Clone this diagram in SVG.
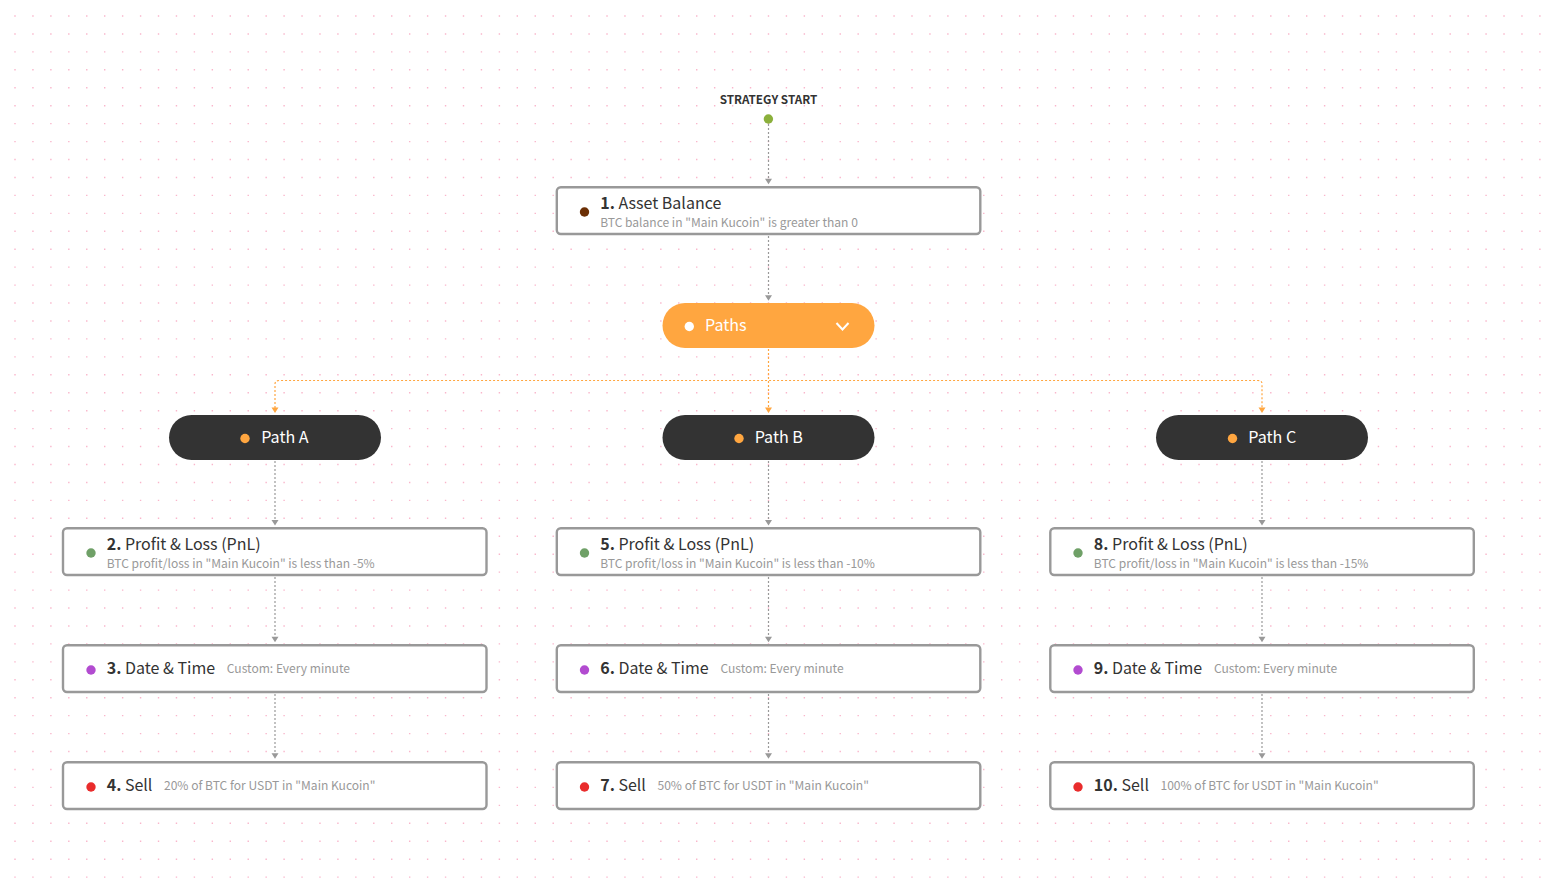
<svg xmlns="http://www.w3.org/2000/svg" width="1554" height="888" viewBox="0 0 1554 888">
<style>
text{font-family:"Noto Sans CJK SC","Noto Sans",sans-serif}
.box{fill:#fff;stroke:#999;stroke-width:2.4}
.t{font-size:16px;fill:#333}
.t tspan{font-weight:700}
.s{font-size:12.05px;fill:#999}
.p{font-size:16.1px;fill:#fff}
.pill{fill:#333}
.dots{fill:none;stroke:#f9b6cb;stroke-width:1.4;stroke-dasharray:1.4 16.54}
.c{fill:none;stroke:#999;stroke-width:1.2;stroke-dasharray:2 2}
.o{fill:none;stroke:#ffa640;stroke-width:1.2;stroke-dasharray:2 2}
</style>
<rect width="1554" height="888" fill="#fff"/>
<path class="dots" d="M14.300 16H1542M14.300 33.940H1542M14.300 51.880H1542M14.300 69.820H1542M14.300 87.760H1542M14.300 105.700H1542M14.300 123.640H1542M14.300 141.580H1542M14.300 159.520H1542M14.300 177.460H1542M14.300 195.400H1542M14.300 213.340H1542M14.300 231.280H1542M14.300 249.220H1542M14.300 267.160H1542M14.300 285.100H1542M14.300 303.040H1542M14.300 320.980H1542M14.300 338.920H1542M14.300 356.860H1542M14.300 374.800H1542M14.300 392.740H1542M14.300 410.680H1542M14.300 428.620H1542M14.300 446.560H1542M14.300 464.500H1542M14.300 482.440H1542M14.300 500.380H1542M14.300 518.320H1542M14.300 536.260H1542M14.300 554.200H1542M14.300 572.140H1542M14.300 590.080H1542M14.300 608.020H1542M14.300 625.960H1542M14.300 643.900H1542M14.300 661.840H1542M14.300 679.780H1542M14.300 697.720H1542M14.300 715.660H1542M14.300 733.600H1542M14.300 751.540H1542M14.300 769.480H1542M14.300 787.420H1542M14.300 805.360H1542M14.300 823.300H1542M14.300 841.240H1542M14.300 859.180H1542M14.300 877.120H1542"/>
<g id="connectors">
<path class="c" d="M768.500 124V179M768.500 236V296M275 461V520M768.500 461V520M1262 461V520M275 577V637M768.500 577V637M1262 577V637M275 694V754M768.500 694V754M1262 694V754"/>
<path class="o" d="M768.500 349V408M275 408V384Q275 380.500 279 380.500H1258Q1262 380.500 1262 384V408"/>
<path fill="#999" d="M765 178.700H772L768.500 184.200ZM765 295.300H772L768.500 300.800ZM271.500 520H278.500L275 525.500ZM765 520H772L768.500 525.500ZM1258.500 520H1265.500L1262 525.500ZM271.500 636.700H278.500L275 642.200ZM765 636.700H772L768.500 642.200ZM1258.500 636.700H1265.500L1262 642.200ZM271.500 753.300H278.500L275 758.800ZM765 753.300H772L768.500 758.800ZM1258.500 753.300H1265.500L1262 758.800Z"/>
<path fill="#ffa640" d="M271.500 407.500H278.500L275 413ZM765 407.500H772L768.500 413ZM1258.500 407.500H1265.500L1262 413Z"/>
</g>
<g id="start"><text x="768.500" y="104" text-anchor="middle" font-weight="700" fill="#333" style="font-size:11.700px">STRATEGY START</text><circle cx="768.400" cy="119" r="4.700" fill="#8bb03c"/></g>
<g id="n1"><rect class="box" x="556.800" y="187.300" width="423.500" height="46.700" rx="4"/><circle cx="584.500" cy="212" r="4.700" fill="#6b2f05"/><text class="t" x="600.200" y="209"><tspan>1.</tspan> Asset Balance</text><text class="s" x="600.200" y="227">BTC balance in "Main Kucoin" is greater than 0</text></g>
<g id="paths"><rect x="662.500" y="303" width="212" height="45" rx="22.500" fill="#ffa640"/><circle cx="689.300" cy="326.500" r="4.700" fill="#fff"/><text class="p" x="705" y="331">Paths</text><path d="M836.500 323L842.500 329.500L848.500 323" fill="none" stroke="#fff" stroke-width="2"/></g>
<g id="pathA"><rect class="pill" x="169" y="415" width="212" height="45" rx="22.500"/><circle cx="245" cy="438.500" r="4.700" fill="#ffa640"/><text class="p" x="261.200" y="443">Path A</text></g>
<g id="pathB"><rect class="pill" x="662.500" y="415" width="212" height="45" rx="22.500"/><circle cx="739" cy="438.500" r="4.700" fill="#ffa640"/><text class="p" x="754.700" y="443">Path B</text></g>
<g id="pathC"><rect class="pill" x="1156" y="415" width="212" height="45" rx="22.500"/><circle cx="1232.500" cy="438.500" r="4.700" fill="#ffa640"/><text class="p" x="1248.300" y="443">Path C</text></g>
<g id="n2"><rect class="box" x="63" y="528.300" width="423.500" height="46.700" rx="4"/><circle cx="91" cy="553" r="4.700" fill="#6fa067"/><text class="t" x="106.700" y="550"><tspan>2.</tspan> Profit &amp; Loss (PnL)</text><text class="s" x="106.700" y="568">BTC profit/loss in "Main Kucoin" is less than -5%</text></g>
<g id="n5"><rect class="box" x="556.800" y="528.300" width="423.500" height="46.700" rx="4"/><circle cx="584.500" cy="553" r="4.700" fill="#6fa067"/><text class="t" x="600.200" y="550"><tspan>5.</tspan> Profit &amp; Loss (PnL)</text><text class="s" x="600.200" y="568">BTC profit/loss in "Main Kucoin" is less than -10%</text></g>
<g id="n8"><rect class="box" x="1050.300" y="528.300" width="423.500" height="46.700" rx="4"/><circle cx="1078" cy="553" r="4.700" fill="#6fa067"/><text class="t" x="1093.800" y="550"><tspan>8.</tspan> Profit &amp; Loss (PnL)</text><text class="s" x="1093.800" y="568">BTC profit/loss in "Main Kucoin" is less than -15%</text></g>
<g id="n3"><rect class="box" x="63" y="645.300" width="423.500" height="46.700" rx="4"/><circle cx="91" cy="670" r="4.700" fill="#b24bd0"/><text class="t" x="106.700" y="674"><tspan>3.</tspan> Date &amp; Time</text><text class="s" x="226.800" y="673">Custom: Every minute</text></g>
<g id="n6"><rect class="box" x="556.800" y="645.300" width="423.500" height="46.700" rx="4"/><circle cx="584.500" cy="670" r="4.700" fill="#b24bd0"/><text class="t" x="600.200" y="674"><tspan>6.</tspan> Date &amp; Time</text><text class="s" x="720.500" y="673">Custom: Every minute</text></g>
<g id="n9"><rect class="box" x="1050.300" y="645.300" width="423.500" height="46.700" rx="4"/><circle cx="1078" cy="670" r="4.700" fill="#b24bd0"/><text class="t" x="1093.800" y="674"><tspan>9.</tspan> Date &amp; Time</text><text class="s" x="1214" y="673">Custom: Every minute</text></g>
<g id="n4"><rect class="box" x="63" y="762.300" width="423.500" height="46.700" rx="4"/><circle cx="91" cy="787" r="4.700" fill="#e92c2c"/><text class="t" x="106.700" y="791"><tspan>4.</tspan> Sell</text><text class="s" x="164" y="790">20% of BTC for USDT in "Main Kucoin"</text></g>
<g id="n7"><rect class="box" x="556.800" y="762.300" width="423.500" height="46.700" rx="4"/><circle cx="584.500" cy="787" r="4.700" fill="#e92c2c"/><text class="t" x="600.200" y="791"><tspan>7.</tspan> Sell</text><text class="s" x="657.500" y="790">50% of BTC for USDT in "Main Kucoin"</text></g>
<g id="n10"><rect class="box" x="1050.300" y="762.300" width="423.500" height="46.700" rx="4"/><circle cx="1078" cy="787" r="4.700" fill="#e92c2c"/><text class="t" x="1093.800" y="791"><tspan>10.</tspan> Sell</text><text class="s" x="1160.500" y="790">100% of BTC for USDT in "Main Kucoin"</text></g>
</svg>
